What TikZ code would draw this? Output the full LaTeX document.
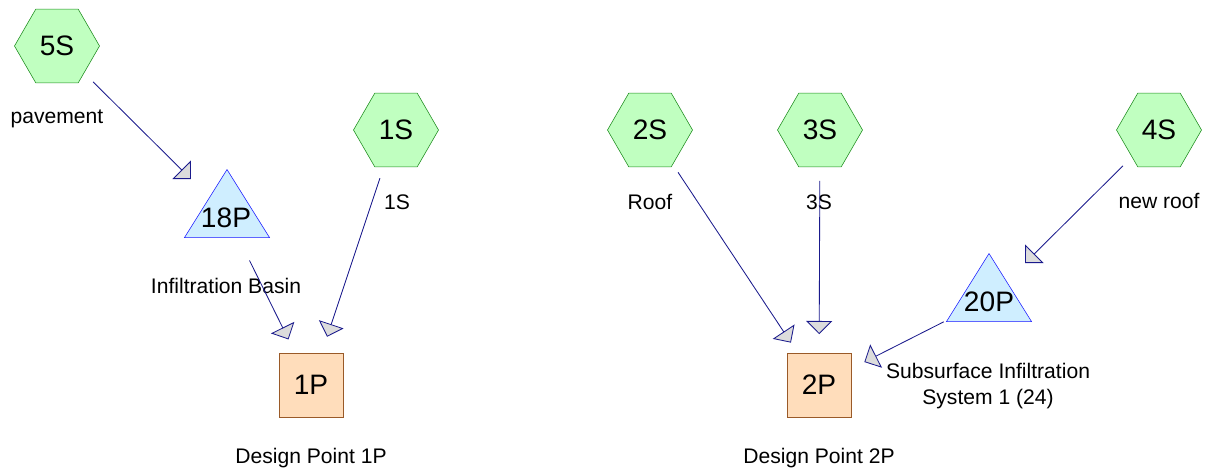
\documentclass[tikz,border=0pt]{standalone}
\usepackage{fontspec}
\setmainfont{Liberation Sans}
\usepackage{xcolor}
\usetikzlibrary{shapes.geometric, arrows.meta, calc}
\definecolor{subfill}{HTML}{C0FFC0}
\definecolor{subline}{HTML}{1E8C1E}
\definecolor{pondfill}{HTML}{CFEEFF}
\definecolor{pondline}{HTML}{1A1AFF}
\definecolor{linkfill}{HTML}{FFDDBB}
\definecolor{linkline}{HTML}{9A5A28}
\definecolor{flowline}{HTML}{1A1A8C}
\definecolor{headfill}{HTML}{DCDCDC}

\begin{document}
\begin{tikzpicture}[
    x=0.025cm, y=-0.025cm,
    subcat/.style={regular polygon, regular polygon sides=6, minimum size=2.125cm, inner sep=0pt, draw=subline, fill=subfill, font=\fontsize{20}{24}\selectfont},
    pond/.style={isosceles triangle, isosceles triangle apex angle=64, isosceles triangle stretches, shape border rotate=90, minimum width=2.125cm, minimum height=1.7cm, inner sep=0pt, anchor=apex, draw=pondline, fill=pondfill},
    pondtext/.style={anchor=base, inner sep=0pt, font=\fontsize{20}{24}\selectfont},
    link/.style={rectangle, minimum size=1.6cm, inner sep=0pt, draw=linkline, fill=linkfill, font=\fontsize{20}{24}\selectfont},
    caption/.style={anchor=base, inner sep=0pt, align=center, font=\fontsize{15}{18.4}\selectfont},
    flow/.style={draw=flowline, line width=0.6pt, -{Triangle[length=3.3mm, width=6.5mm, fill=headfill]}, shorten <=1.27cm, shorten >=1.27cm}
]
\useasboundingbox (0,0) rectangle (1208,473);

% subcatchments
\node[subcat] (s5) at (57,46) {5S};
\node[subcat] (s1) at (396,130) {1S};
\node[subcat] (s2) at (650,130) {2S};
\node[subcat] (s3) at (820,130) {3S};
\node[subcat] (s4) at (1159,130) {4S};

% ponds
\node[pond] (p18) at (227,169) {};
\node[pond] (p20) at (989,253) {};
\node[pondtext] (p18t) at (226,227) {18P};
\node[pondtext] (p20t) at (989,311) {20P};
\coordinate (p18c) at ($(p18.apex)!0.6667!(p18.lower side)$);
\coordinate (p20c) at ($(p20.apex)!0.6667!(p20.lower side)$);

% design points
\node[link] (l1) at (311,385) {1P};
\node[link] (l2) at (819,385) {2P};

% labels
\node[caption] (c5) at (57,123) {pavement};
\node[caption] (c1) at (397,209) {1S};
\node[caption] (c18) at (226,293) {Infiltration Basin};
\node[caption] (cl1) at (311,463) {Design Point 1P};
\node[caption] (c2) at (650,209) {Roof};
\node[caption] (c3) at (819,209) {3S};
\node[caption] (c4) at (1159,208) {new roof};
\node[caption] (c20) at (988,404) {Subsurface Infiltration\\System 1 (24)};
\node[caption] (cl2) at (819,463) {Design Point 2P};

% flows
\draw[flow] (s5.center) -- (p18c);
\draw[flow] (s1.center) -- (l1.center);
\draw[flow] (p18c) -- (l1.center);
\draw[flow] (s2.center) -- (l2.center);
\draw[flow] (s3.center) -- (l2.center);
\draw[flow] (s4.center) -- (p20c);
\draw[flow] (p20c) -- (l2.center);
\end{tikzpicture}
\end{document}
